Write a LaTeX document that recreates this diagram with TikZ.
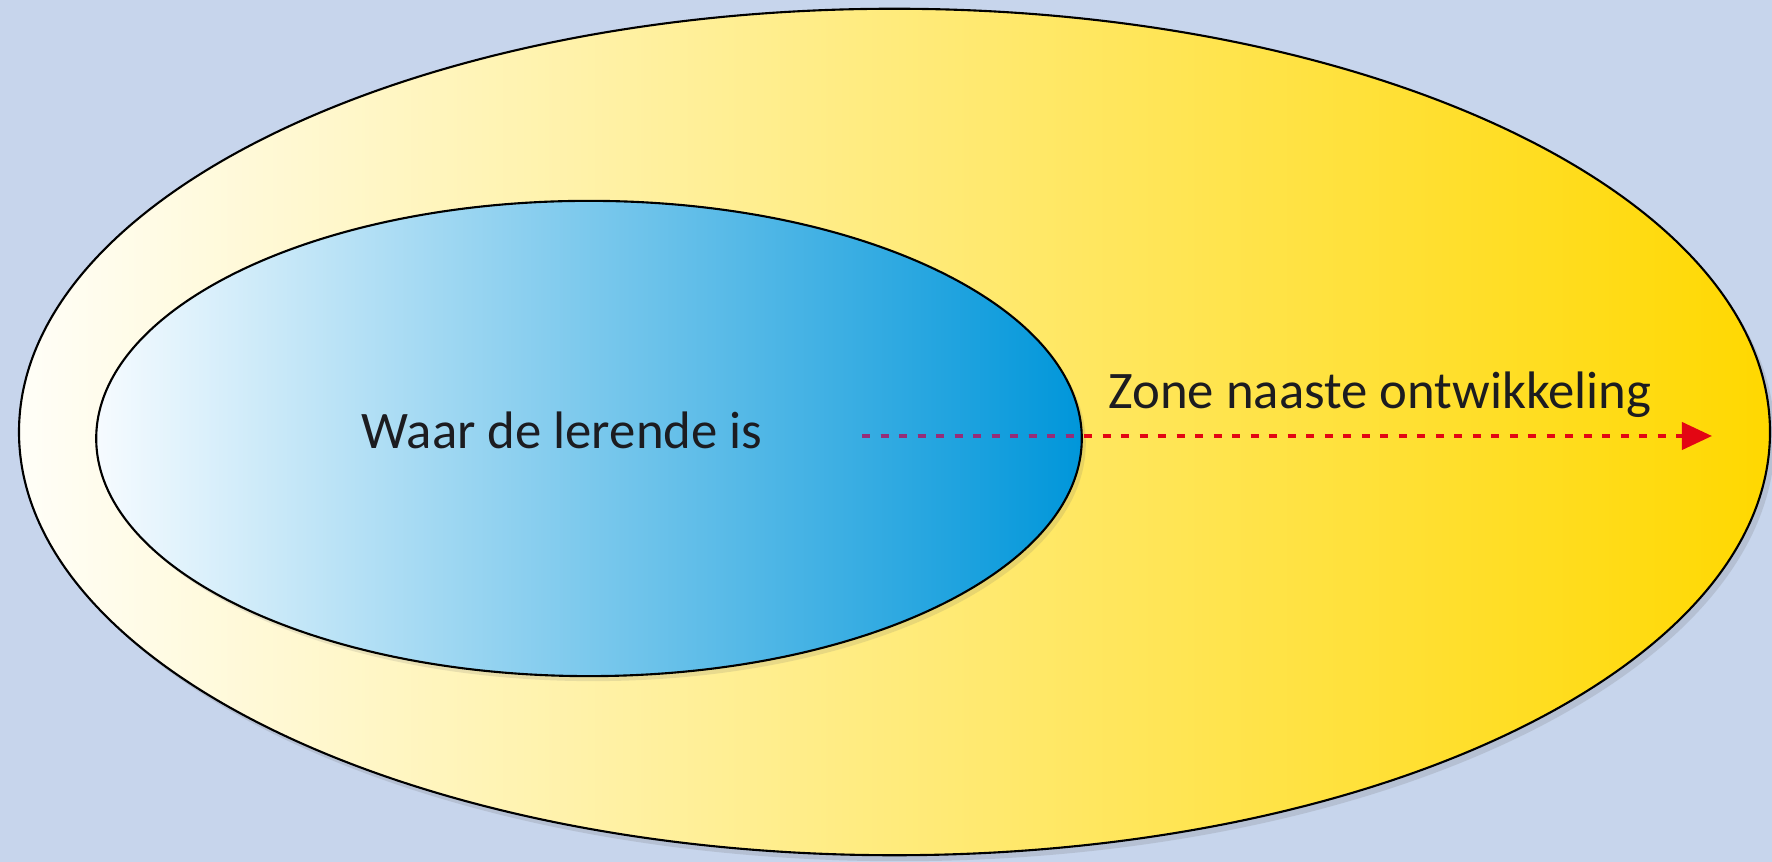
\documentclass[tikz,border=0pt]{standalone}
\usepackage{fontspec}
\setmainfont{Carlito}
\usetikzlibrary{shapes.geometric,arrows.meta,shadows}
\definecolor{bg}{RGB}{199,213,236}
\definecolor{ylwL}{RGB}{255,254,248}
\definecolor{ylwM}{RGB}{255,238,150}
\definecolor{ylwR}{RGB}{255,216,0}
\definecolor{bluL}{RGB}{246,251,255}
\definecolor{bluM}{RGB}{125,202,238}
\definecolor{bluR}{RGB}{0,150,218}
\definecolor{arrowred}{RGB}{227,6,19}
\definecolor{arrowpurple}{RGB}{150,45,120}
\definecolor{txt}{RGB}{28,28,32}
\tikzset{
  zone/.style={ellipse, draw=black, line width=0.6pt, inner sep=0pt},
  lbl/.style={font=\fontsize{15}{18}\selectfont, text=txt, anchor=base, inner sep=0pt},
  dotline/.style={line width=0.04cm, dash pattern=on 0.08cm off 0.105cm},
}
\begin{document}
\begin{tikzpicture}[x=0.01cm,y=-0.01cm]
\fill[bg] (0,0) rectangle (1772,862);
\useasboundingbox (0,0) rectangle (1772,862);
\node[zone, minimum width=17.5cm, minimum height=8.46cm,
      left color=ylwL, middle color=ylwM, right color=ylwR,
      drop shadow={shadow xshift=0.05cm, shadow yshift=-0.06cm, opacity=0.18, fill=black!60}]
      (outer) at (894.5,432) {};
\node[zone, minimum width=9.85cm, minimum height=4.75cm,
      left color=bluL, middle color=bluM, right color=bluR,
      drop shadow={shadow xshift=0.04cm, shadow yshift=-0.05cm, opacity=0.15, fill=black!60}]
      (inner) at (589,438.5) {};
\coordinate (as) at (862,436);
\coordinate (ae) at (1712,436);
\draw[dotline, arrowred, -{Triangle[length=0.3cm,width=0.27cm]}] (as) -- (ae);
\begin{scope}
  \clip (inner.center) ellipse [x radius=4.925cm, y radius=2.375cm];
  \draw[dotline, arrowpurple] (as) -- (ae);
\end{scope}
\node[lbl] (where) at (562,449) {Waar de lerende is};
\node[lbl] (zone) at (1380,409) {Zone naaste ontwikkeling};
\end{tikzpicture}
\end{document}
